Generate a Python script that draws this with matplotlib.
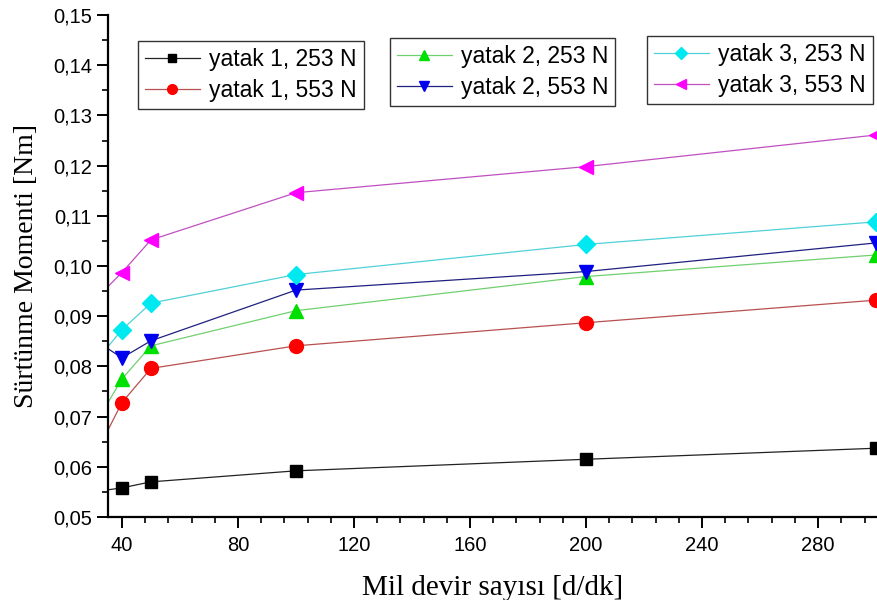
import matplotlib
matplotlib.use("Agg")
import matplotlib.pyplot as plt
from matplotlib.ticker import MultipleLocator, FuncFormatter

plt.rcParams["font.family"] = "Liberation Sans"

# mil devir sayisi [d/dk]; the first point sits left of the visible range
devir = [30, 40, 50, 100, 200, 300]

y1_253 = [0.0550, 0.0558, 0.0570, 0.0592, 0.0615, 0.0637]
y1_553 = [0.0614, 0.0728, 0.0796, 0.0841, 0.0887, 0.0932]
y2_253 = [0.0677, 0.0775, 0.0841, 0.0911, 0.0979, 0.1022]
y2_553 = [0.0855, 0.0817, 0.0851, 0.0952, 0.0989, 0.1046]
y3_253 = [0.0803, 0.0873, 0.0926, 0.0983, 0.1043, 0.1088]
y3_553 = [0.0929, 0.0987, 0.1052, 0.1146, 0.1198, 0.1261]

labels = ["yatak 1, 253 N", "yatak 1, 553 N", "yatak 2, 253 N",
          "yatak 2, 553 N", "yatak 3, 253 N", "yatak 3, 553 N"]
series = [y1_253, y1_553, y2_253, y2_553, y3_253, y3_553]
markers = ["s", "o", "^", "v", "D", "<"]
mcolors = ["#000000", "#ff0000", "#00e000", "#0000ee", "#00e8f0", "#ff00ff"]
lcolors = ["#222222", "#b85050", "#70d070", "#202080", "#50d0d8", "#c050c0"]
msizes = [9, 10, 10, 10, 9, 10]

fig = plt.figure(figsize=(8.77, 6.0), dpi=100)
ax = fig.add_axes([108 / 877, 83 / 600, 769 / 877, 502 / 600])

handles = []
for y, lab, m, mc, lc, ms in zip(series, labels, markers, mcolors, lcolors, msizes):
    h, = ax.plot(devir, y, color=lc, lw=0.9, marker=m, ms=ms,
                 markerfacecolor=mc, markeredgecolor=mc, label=lab)
    handles.append(h)

ax.set_xlim(35.2, 300.3)
ax.set_ylim(0.05, 0.15)
ax.xaxis.set_major_locator(MultipleLocator(40))
ax.xaxis.set_minor_locator(MultipleLocator(8))
ax.yaxis.set_major_locator(MultipleLocator(0.01))
ax.yaxis.set_minor_locator(MultipleLocator(0.005))
ax.yaxis.set_major_formatter(FuncFormatter(lambda v, p: f"{v:.2f}".replace(".", ",")))

for s in ["top", "right"]:
    ax.spines[s].set_visible(False)
for s in ["left", "bottom"]:
    ax.spines[s].set_linewidth(1.6)

ax.tick_params(which="major", direction="out", length=8, width=1.4, labelsize=14.5)
ax.tick_params(which="minor", direction="out", length=4.5, width=1.2)
ax.tick_params(axis="x", pad=6)

ax.set_xlabel("Mil devir sayısı [d/dk]", family="Liberation Serif", fontsize=21, labelpad=14)
ax.set_ylabel("Sürtünme Momenti [Nm]", family="Liberation Serif", fontsize=20, labelpad=10)

# three separate legend boxes, two entries each
boxes = [(138, 41), (390, 38), (647, 36)]
for i, (bx, by) in enumerate(boxes):
    leg = fig.legend(handles=handles[2 * i:2 * i + 2], loc="upper left",
                     bbox_to_anchor=(bx / 877, 1 - by / 600), borderaxespad=0,
                     fontsize=16.5, frameon=True, fancybox=False, framealpha=1,
                     edgecolor="#333333", handlelength=2.4, handletextpad=0.4,
                     markerscale=0.7, borderpad=0.3, labelspacing=0.35)
    leg.get_frame().set_linewidth(1.0)

fig.savefig("out.png", dpi=100)
